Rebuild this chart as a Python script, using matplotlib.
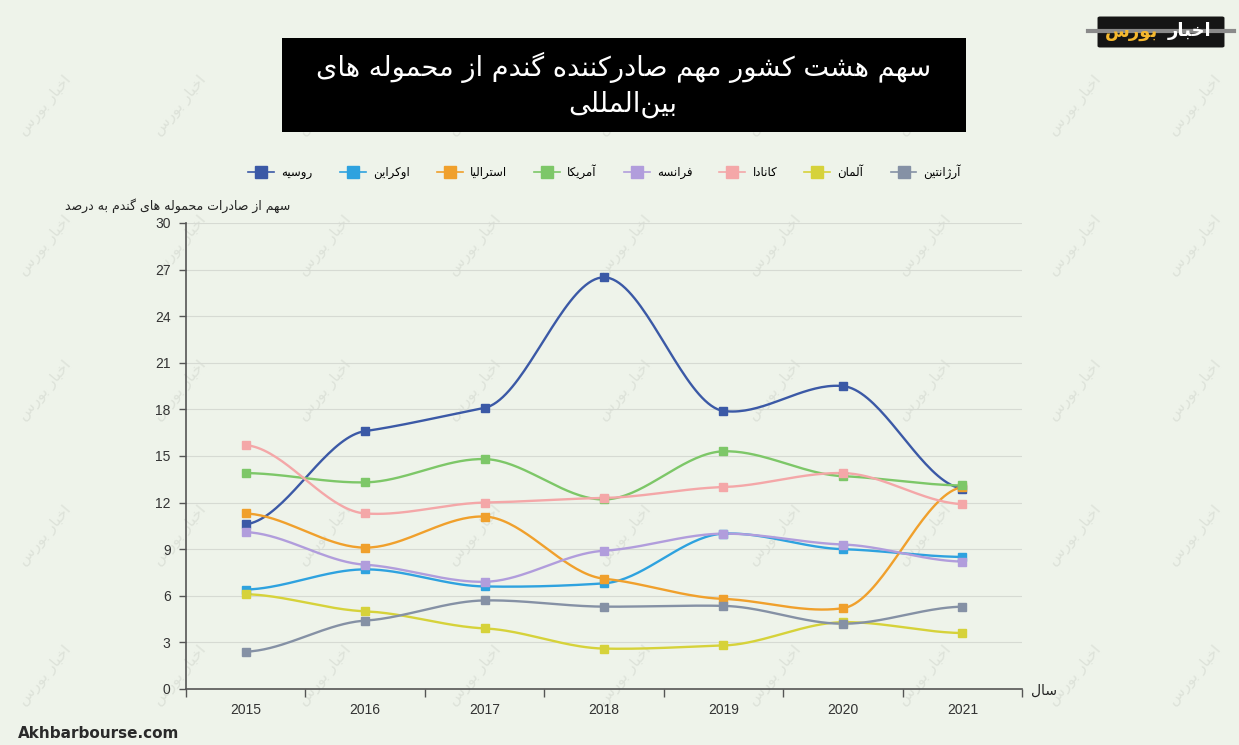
import numpy as np
import matplotlib
matplotlib.use("Agg")
import matplotlib.pyplot as plt
from matplotlib.lines import Line2D
from matplotlib.patches import FancyBboxPatch, Rectangle

# ---- data ----
years = ["2015", "2016", "2017", "2018", "2019", "2020", "2021"]
y_ticks = [0, 3, 6, 9, 12, 15, 18, 21, 24, 27, 30]

russia    = [10.6, 16.6, 18.1, 26.5, 17.9, 19.5, 12.9]
ukraine   = [6.4, 7.7, 6.6, 6.8, 10.0, 9.0, 8.5]
australia = [11.3, 9.1, 11.1, 7.1, 5.8, 5.2, 13.0]
usa       = [13.9, 13.3, 14.8, 12.2, 15.3, 13.7, 13.1]
france    = [10.1, 8.0, 6.9, 8.9, 10.0, 9.3, 8.2]
canada    = [15.7, 11.3, 12.0, 12.3, 13.0, 13.9, 11.9]
germany   = [6.1, 5.0, 3.9, 2.6, 2.8, 4.3, 3.6]
argentina = [2.4, 4.4, 5.7, 5.3, 5.35, 4.2, 5.3]

names = ["روسیه", "اوکراین", "استرالیا", "آمریکا", "فرانسه", "کانادا", "آلمان", "آرژانتین"]
series = [russia, ukraine, australia, usa, france, canada, germany, argentina]
colors = ["#3b59a6", "#2ea2df", "#f0a02c", "#7dc768", "#b19ddc", "#f4a7a8", "#d6d23a", "#8591a5"]

title_lines = ["سهم هشت کشور مهم صادرکننده گندم از محموله های", "بین\u200cالمللی"]
ylabel = "سهم از صادرات محموله های گندم به درصد"
xlabel = "سال"
brand = ["اخبار", "بورس"]

# ---- minimal arabic/persian shaping (matplotlib has no bidi / joining) ----
FORMS = {  # isolated, final, initial, medial
    'ا': ('\uFE8D', '\uFE8E', None, None),
    'آ': ('\uFE81', '\uFE82', None, None),
    'د': ('\uFEA9', '\uFEAA', None, None),
    'ر': ('\uFEAD', '\uFEAE', None, None),
    'ز': ('\uFEAF', '\uFEB0', None, None),
    'ژ': ('\uFB8A', '\uFB8B', None, None),
    'و': ('\uFEED', '\uFEEE', None, None),
    'ب': ('\uFE8F', '\uFE90', '\uFE91', '\uFE92'),
    'ت': ('\uFE95', '\uFE96', '\uFE97', '\uFE98'),
    'ح': ('\uFEA1', '\uFEA2', '\uFEA3', '\uFEA4'),
    'خ': ('\uFEA5', '\uFEA6', '\uFEA7', '\uFEA8'),
    'س': ('\uFEB1', '\uFEB2', '\uFEB3', '\uFEB4'),
    'ش': ('\uFEB5', '\uFEB6', '\uFEB7', '\uFEB8'),
    'ص': ('\uFEB9', '\uFEBA', '\uFEBB', '\uFEBC'),
    'ف': ('\uFED1', '\uFED2', '\uFED3', '\uFED4'),
    'ل': ('\uFEDD', '\uFEDE', '\uFEDF', '\uFEE0'),
    'م': ('\uFEE1', '\uFEE2', '\uFEE3', '\uFEE4'),
    'ن': ('\uFEE5', '\uFEE6', '\uFEE7', '\uFEE8'),
    'ه': ('\uFEE9', '\uFEEA', '\uFEEB', '\uFEEC'),
    'ی': ('\uFBFC', '\uFBFD', '\uFBFE', '\uFBFF'),
    'ک': ('\uFB8E', '\uFB8F', '\uFB90', '\uFB91'),
    'گ': ('\uFB92', '\uFB93', '\uFB94', '\uFB95'),
}


def shape(text):
    out = []
    for i, c in enumerate(text):
        if c not in FORMS:
            if c != '\u200c':
                out.append(c)
            continue
        prev = text[i - 1] if i > 0 else None
        nxt = text[i + 1] if i + 1 < len(text) else None
        iso, fin, ini, med = FORMS[c]
        jp = prev in FORMS and FORMS[prev][2] is not None
        jn = nxt in FORMS and ini is not None
        if jp and jn:
            out.append(med)
        elif jp:
            out.append(fin)
        elif jn:
            out.append(ini)
        else:
            out.append(iso)
    return ''.join(reversed(out))


def smooth(xs, ys, ty=0.3, n=40):
    """Tension smoothing, flattened in y; end points get flat phantom neighbours."""
    xs = np.asarray(xs, float)
    ys = np.asarray(ys, float)
    k = len(xs)
    # phantom points: same y as the end point, one step further out in x
    px = np.concatenate([[2 * xs[0] - xs[1]], xs, [2 * xs[-1] - xs[-2]]])
    py = np.concatenate([[ys[0]], ys, [ys[-1]]])
    t = np.linspace(0, 1, n)[:, None]
    out = []
    for i in range(1, k):
        p1 = np.array([px[i], py[i]])
        p2 = np.array([px[i + 1], py[i + 1]])
        ca = p1 + np.array([(px[i + 1] - px[i - 1]) / 6, (py[i + 1] - py[i - 1]) / 6 * ty])
        cb = p2 - np.array([(px[i + 2] - px[i]) / 6, (py[i + 2] - py[i]) / 6 * ty])
        seg = (1 - t) ** 3 * p1 + 3 * (1 - t) ** 2 * t * ca + 3 * (1 - t) * t ** 2 * cb + t ** 3 * p2
        out.append(seg if i == 1 else seg[1:])
    out = np.vstack(out)
    return out[:, 0], out[:, 1]


bg = "#eef3ea"
plt.rcParams['font.family'] = ['DejaVu Sans']

fig = plt.figure(figsize=(12.39, 7.45), dpi=100, facecolor=bg)

# faint site watermark, repeated over the whole picture
wm = shape(brand[0] + " " + brand[1])
for wy in [105, 245, 390, 535, 675]:
    for wx in [45, 180, 325, 475, 625, 775, 925, 1075, 1195]:
        fig.text(wx / 1239, 1 - wy / 745, wm, rotation=50, fontsize=11,
                 color='#dde2d9', ha='center', va='center', zorder=-5)

ax = fig.add_axes([0.150, 0.0752, 0.675, 0.6255])
ax.patch.set_visible(False)

x = np.arange(len(years))
for vals, col in zip(series, colors):
    sx, sy = smooth(x, vals)
    ax.plot(sx, sy, color=col, lw=1.7, solid_capstyle='round', zorder=3)
    ax.plot(x, vals, ls='none', marker='s', ms=5.5, color=col, zorder=4)

ax.set_xlim(-0.5, len(years) - 0.5)
ax.set_ylim(0, 30)
ax.set_yticks(y_ticks)
ax.set_yticklabels([str(v) for v in y_ticks], fontsize=10, family='Liberation Sans', color='#333333')
ax.set_xticks(np.arange(-0.5, len(years)), labels=[])
ax.set_xticks(x, labels=years, minor=True)
ax.tick_params(axis='x', which='minor', length=0, pad=10, labelsize=10, labelcolor='#333333')
for lbl in ax.get_xticklabels(minor=True):
    lbl.set_family('Liberation Sans')
ax.tick_params(axis='x', which='major', length=6, width=1, color='#555555', direction='out')
ax.tick_params(axis='y', length=5, width=1, color='#555555', direction='out', pad=6)
ax.grid(axis='y', color='#d6dad3', lw=0.8, zorder=0)
for s in ['top', 'right']:
    ax.spines[s].set_visible(False)
for s in ['left', 'bottom']:
    ax.spines[s].set_color('#555555')
    ax.spines[s].set_linewidth(1.2)

# axis labels
fig.text(0.143, 0.724, shape(ylabel), fontsize=9, ha='center', va='center', color='#222222')
fig.text(0.832, 0.073, shape(xlabel), fontsize=10, ha='left', va='center', color='#222222')

# legend
handles = [Line2D([0], [0], color=c, lw=1.2, marker='s', ms=9) for c in colors]
fig.legend(handles, [shape(n) for n in names], loc='center', bbox_to_anchor=(0.488, 0.770),
           ncol=8, frameon=False, fontsize=8.5, handlelength=2.2, handletextpad=0.6,
           columnspacing=2.3)

# title box
fig.patches.append(Rectangle((282 / 1239, 1 - 132 / 745), 684 / 1239, 94 / 745,
                             transform=fig.transFigure, facecolor='black', edgecolor='none'))
fig.text(0.503, 0.909, shape(title_lines[0]), color='white', fontsize=19.6, ha='center', va='center')
fig.text(0.503, 0.860, shape(title_lines[1]), color='white', fontsize=19.6, ha='center', va='center')

# logo top right
fig.lines.append(Line2D([1088 / 1239, 1234 / 1239], [1 - 31 / 745] * 2, transform=fig.transFigure,
                        color='#8a8a8a', lw=3))
fig.patches.append(FancyBboxPatch((1100 / 1239, 1 - 46 / 745), 122 / 1239, 28 / 745,
                                  boxstyle='round,pad=0.002', transform=fig.transFigure,
                                  facecolor='#151515', edgecolor='none'))
fig.text(1190 / 1239, 1 - 31 / 745, shape(brand[0]), color='white', fontsize=13,
         fontweight='bold', ha='center', va='center')
fig.text(1132 / 1239, 1 - 32 / 745, shape(brand[1]), color='#f5b82e', fontsize=13,
         fontweight='bold', ha='center', va='center')

# footer
fig.text(18 / 1239, 1 - 733 / 745, "Akhbarbourse.com", fontsize=11, fontweight='bold',
         color='#2a2a2a', ha='left', va='center')

fig.savefig("out.png", dpi=100, facecolor=bg)
